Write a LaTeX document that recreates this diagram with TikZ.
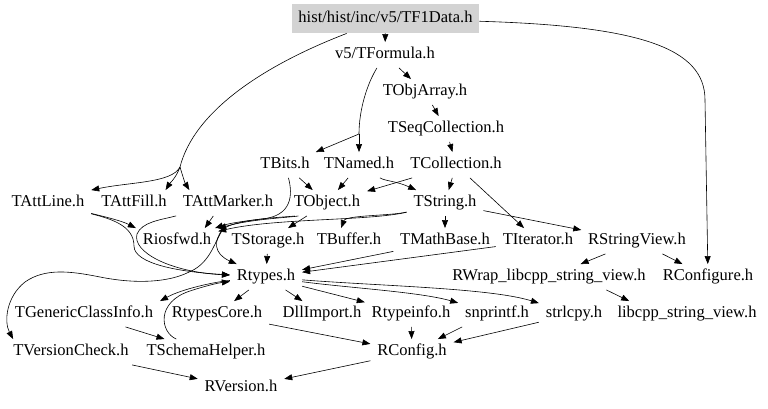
\documentclass[tikz,border=0pt]{standalone}
\usepackage{fontspec}
\setmainfont{Liberation Serif}
\usepackage{tikz}
\usetikzlibrary{arrows.meta, calc}
\definecolor{incRoot}{HTML}{D3D3D3}

\begin{document}
\begin{tikzpicture}[x=0.75pt, y=-0.75pt, font=\fontsize{12.4}{14}\selectfont,
    file/.style={inner xsep=5pt, inner ysep=4pt, text height=8.5pt, text depth=2.5pt},
    incedge/.style={-{Triangle[length=6pt,width=4.5pt]}, line width=0.45pt}]
  \useasboundingbox (0,0) rectangle (768,409);
  % Nodo raiz
  \node[file, fill=incRoot, minimum width=140pt, minimum height=22pt] (F1) at (385.5,18.5) {hist/hist/inc/v5/TF1Data.h};
  % Cabeceras incluidas (nombre/x/y/texto)
  \foreach \nm/\x/\y/\txt in {Formula/385/55/{v5/TFormula.h}, ObjArray/425/92/TObjArray.h,
      SeqColl/446/129/TSeqCollection.h, Bits/285/165/TBits.h, Named/359/165/TNamed.h,
      Coll/456/165/TCollection.h, AttLine/48/203/TAttLine.h, AttFill/134/203/TAttFill.h,
      AttMarker/228/203/TAttMarker.h, Object/327/203/TObject.h, String/445/203/TString.h,
      Riosfwd/177/241/Riosfwd.h, Storage/268/241/TStorage.h, Buffer/349/241/TBuffer.h,
      MathBase/445/241/TMathBase.h, Iterator/538/241/TIterator.h, StringView/637/241/RStringView.h,
      Rtypes/266/277/Rtypes.h, RWrap/549/277/RWrap\_libcpp\_string\_view.h, RConfigure/708/277/RConfigure.h,
      GenClass/84/314/TGenericClassInfo.h, RtypesCore/217/314/RtypesCore.h, DllImport/322/314/DllImport.h,
      Rtypeinfo/411/314/Rtypeinfo.h, Snprintf/497/314/snprintf.h, Strlcpy/574/314/strlcpy.h,
      Libcpp/687/314/libcpp\_string\_view.h, VersionCheck/71/352/TVersionCheck.h,
      SchemaHelper/206/352/TSchemaHelper.h, RConfig/412/352/RConfig.h, RVersion/241/388/RVersion.h} {
    \node[file] (\nm) at (\x,\y) {\txt};
  }
  % Puntos de bifurcacion
  \coordinate (attSplit) at (180,167);
  \coordinate (fmSplit) at (359,134);
  \coordinate (objSplit) at (223,229);
  % Aristas rectas
  \foreach \a/\b in {F1/Formula, Formula/ObjArray, ObjArray/SeqColl, SeqColl/Coll, Bits/Object,
      Named/Object, Coll/Object, Coll/String, Coll/Iterator, String/MathBase, String/StringView,
      Object/Storage, Storage/Rtypes, MathBase/Rtypes, Iterator/Rtypes, StringView/RWrap,
      StringView/RConfigure, Rtypes/RtypesCore, Rtypes/DllImport, Rtypes/Rtypeinfo, Rtypeinfo/RConfig,
      Strlcpy/RConfig, RtypesCore/RConfig, GenClass/SchemaHelper, VersionCheck/RVersion, RConfig/RVersion} {
    \draw[incedge] (\a) -- (\b);
  }
  % Aristas curvas desde la raiz
  \draw[incedge] (F1) .. controls (262,66) and (194,112) .. (attSplit) .. controls (172,183) and (130,182) .. (AttLine.north east);
  \draw[incedge] (attSplit) .. controls (176,178) and (170,183) .. ([xshift=-6pt]AttFill.north east);
  \draw[incedge] (attSplit) .. controls (183,177) and (185,183) .. ([xshift=10pt]AttMarker.north west);
  \draw[incedge] (F1) .. controls (640,26) and (705,48) .. (705,100) -- (RConfigure);
  % TFormula
  \draw[incedge] (Formula) .. controls (367,84) and (359,110) .. (fmSplit) -- (Bits);
  \draw[incedge] (fmSplit) -- (Named);
  \draw[incedge] (Named) .. controls (385,181) and (396,181) .. (String);
  % Hacia Riosfwd.h y Rtypes.h
  \draw[incedge] (Bits) .. controls (293,195) and (292,216) .. (262,219) .. controls (245,221) and (230,223) .. (Riosfwd);
  \draw[incedge] (Object) .. controls (296,217) and (250,219) .. (Riosfwd);
  \draw[incedge] (Object) .. controls (292,217) and (238,218) .. (objSplit) .. controls (213,241) and (214,254) .. (Rtypes);
  \draw[incedge] (objSplit) .. controls (213,245) and (210,264) .. (187,273)
    .. controls (170,281) and (140,285) .. (100,277) .. controls (70,271) and (45,268) .. (25,282)
    .. controls (6,297) and (4,322) .. ([xshift=5pt]VersionCheck.north west);
  \draw[incedge] (String) .. controls (390,216) and (346,215) .. ([xshift=-6pt]Buffer.north);
  \draw[incedge] (String) .. controls (370,221) and (275,218) .. (Riosfwd);
  \draw[incedge] (AttLine) .. controls (106,217) and (122,221) .. (Riosfwd.north west);
  \draw[incedge] (AttLine) .. controls (112,219) and (134,226) .. (134,246) .. controls (134,264) and (180,272) .. (Rtypes);
  \draw[incedge] ([xshift=-11pt]AttMarker.south) -- ([xshift=-10pt]Riosfwd.north east);
  \draw[incedge] (AttMarker.south west) .. controls (160,220) and (142,222) .. (137,234) .. controls (132,252) and (170,272) .. (Rtypes);
  % Alrededor de Rtypes.h
  \draw[incedge] (Rtypes) .. controls (214,282) and (182,289) .. (GenClass.north east);
  \draw[incedge] (SchemaHelper) .. controls (160,332) and (156,302) .. (190,291) .. controls (205,286) and (218,283) .. (Rtypes);
  \draw[incedge] (Rtypes) .. controls (350,288) and (420,292) .. (Snprintf);
  \draw[incedge] (Rtypes) .. controls (380,286) and (490,288) .. (Strlcpy);
  \draw[incedge] ([xshift=3pt]Snprintf.south west) -- (RConfig);
  \draw[incedge] ([xshift=43pt]RWrap.south) -- ([xshift=14pt]Libcpp.north west);
\end{tikzpicture}
\end{document}
